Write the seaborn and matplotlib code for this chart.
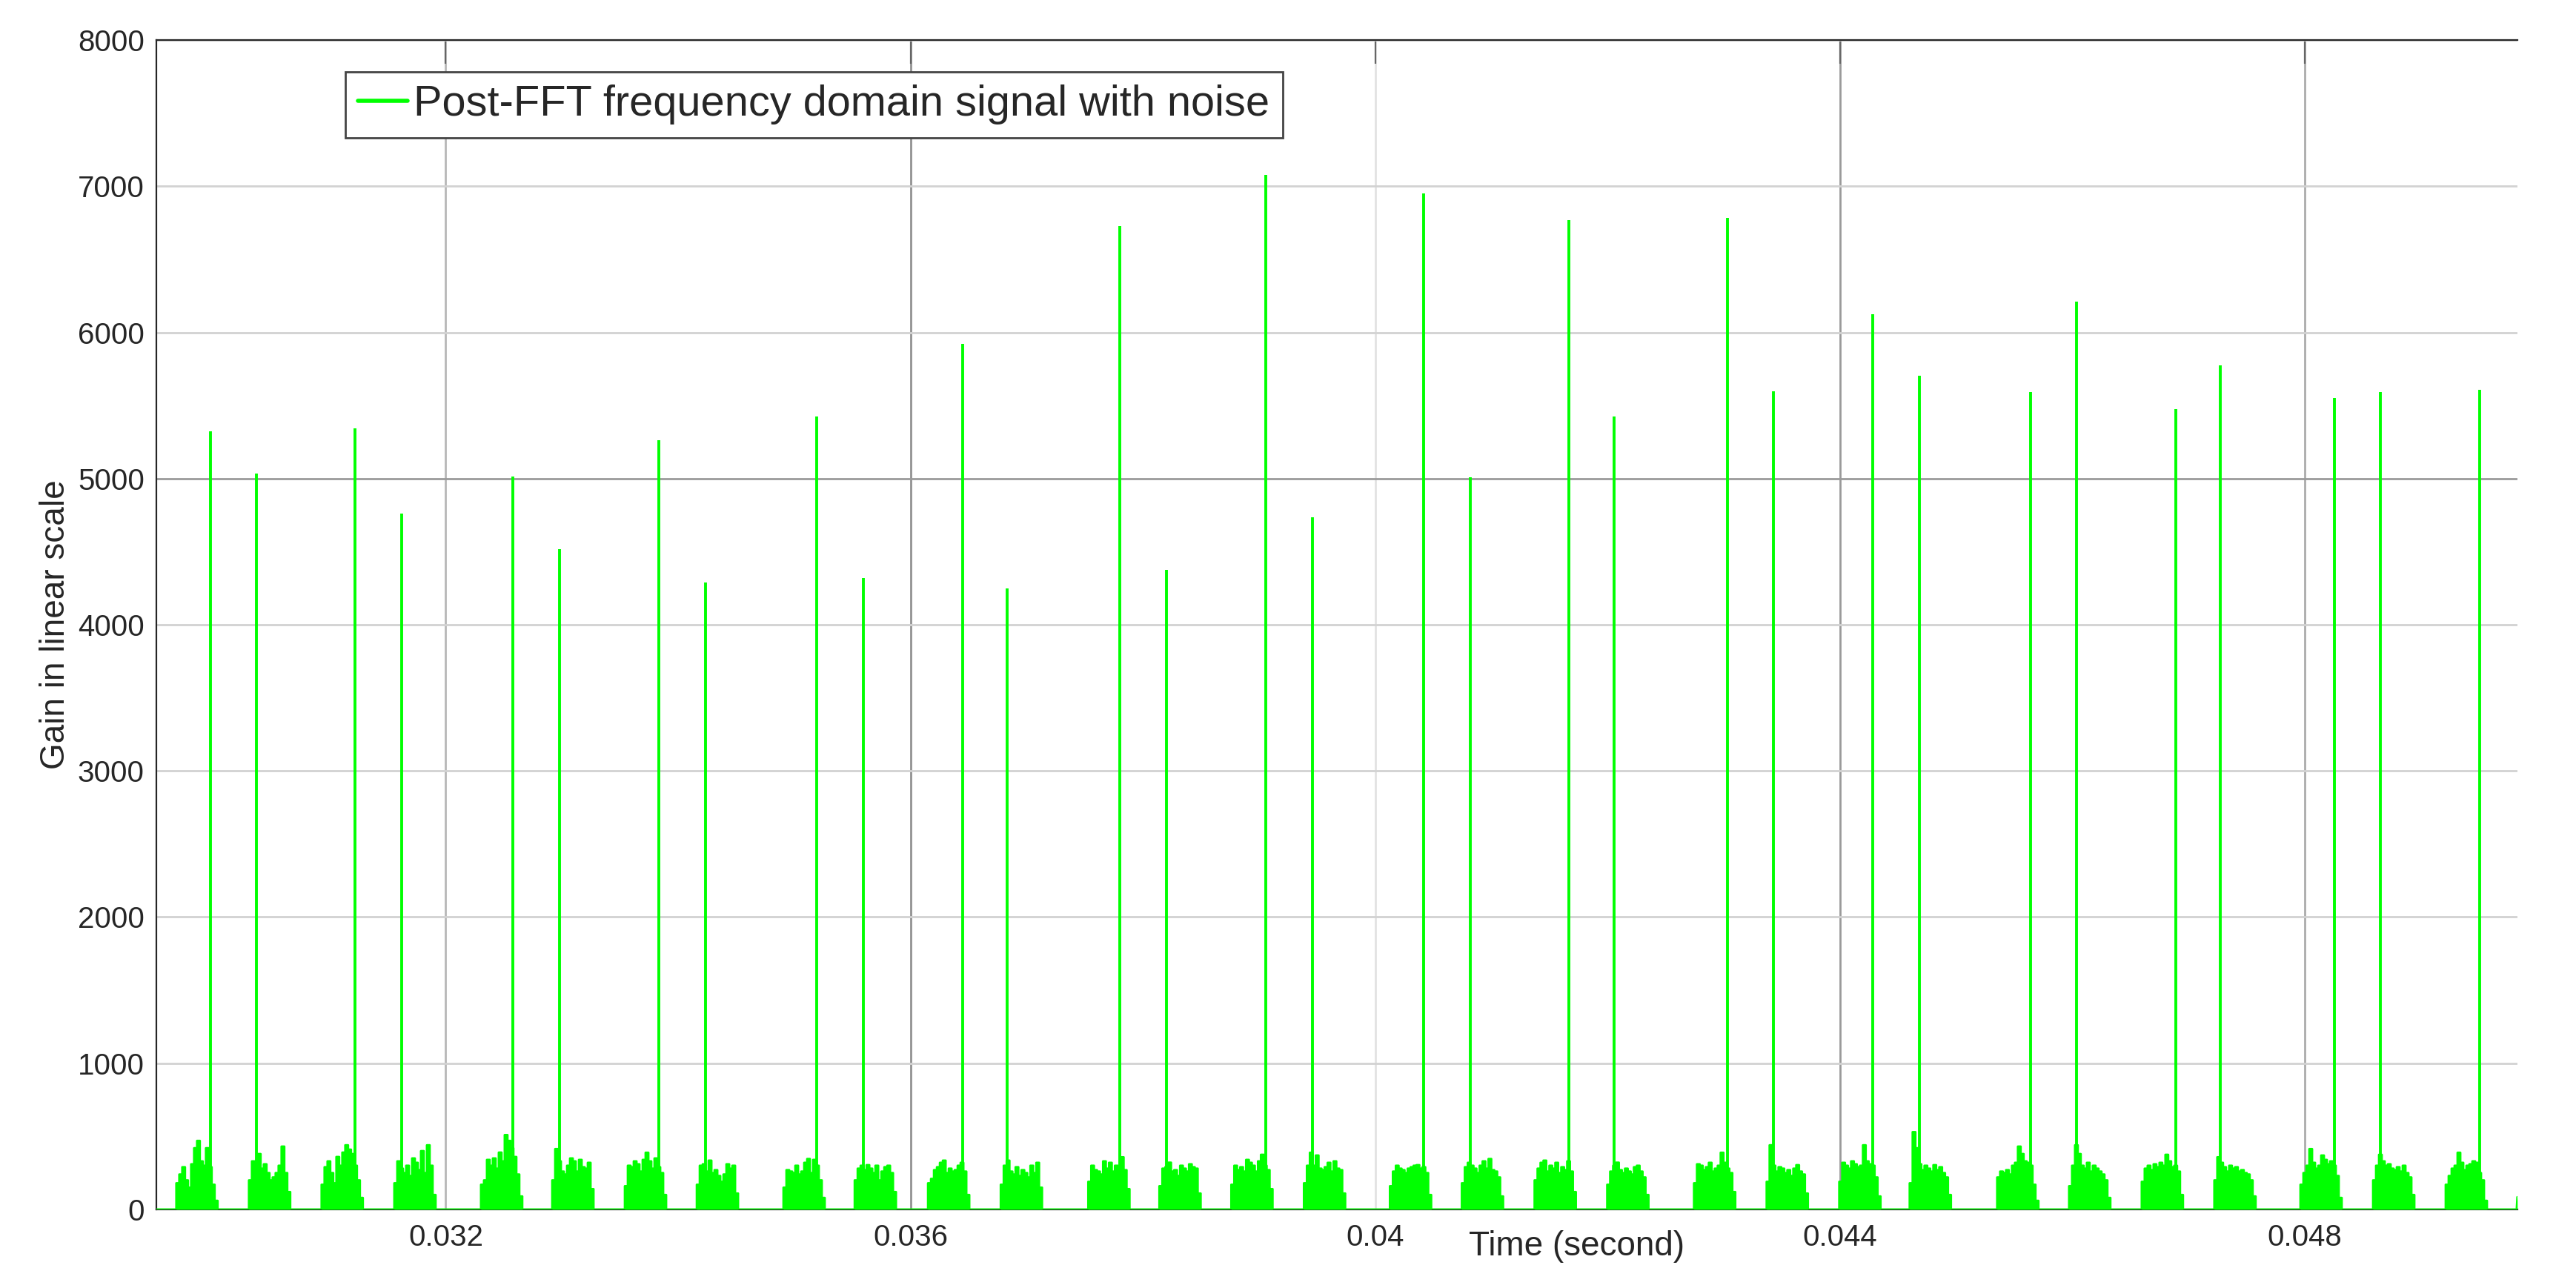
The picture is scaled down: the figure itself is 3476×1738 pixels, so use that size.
import matplotlib
matplotlib.use("Agg")
import matplotlib.pyplot as plt
import numpy as np
import pandas as pd
import seaborn as sns

# tall spikes: time (s) and gain
spike_times = [0.029974, 0.030372, 0.031222, 0.031619, 0.032579, 0.032979,
               0.033833, 0.034233, 0.035193, 0.035594, 0.036447, 0.036831,
               0.037804, 0.038205, 0.039058, 0.039458, 0.040418, 0.040819,
               0.041668, 0.042056, 0.043029, 0.043426, 0.044279, 0.044680,
               0.045640, 0.046037, 0.046890, 0.047274, 0.048251, 0.048651,
               0.049501]
spike_gains = [5325, 5034, 5345, 4763, 5014, 4519, 5262, 4290, 5424, 4319,
               5920, 4248, 6728, 4374, 7075, 4735, 6949, 5009, 6770, 5424,
               6785, 5598, 6122, 5705, 5594, 6212, 5476, 5774, 5550, 5592,
               5607]

# noise bursts around each spike
cluster_starts = [0.029681, 0.030306, 0.030931, 0.031557, 0.032303, 0.032916,
                  0.033541, 0.034160, 0.034906, 0.035519, 0.036150, 0.036776,
                  0.037529, 0.038141, 0.038760, 0.039385, 0.040125, 0.040744,
                  0.041370, 0.041995, 0.042742, 0.043367, 0.043992, 0.044598,
                  0.045351, 0.045970, 0.046595, 0.047220, 0.047961, 0.048586,
                  0.049211]
cluster_ends = [0.030038, 0.030663, 0.031288, 0.031914, 0.032660, 0.033273,
                0.033898, 0.034517, 0.035263, 0.035876, 0.036507, 0.037133,
                0.037886, 0.038498, 0.039117, 0.039742, 0.040482, 0.041101,
                0.041727, 0.042352, 0.043099, 0.043724, 0.044349, 0.044955,
                0.045708, 0.046327, 0.046952, 0.047577, 0.048318, 0.048943,
                0.049568]
noise_envelopes = [
    [180, 240, 290, 200, 150, 310, 420, 470, 330, 300, 420, 290, 170, 60],
    [200, 330, 300, 380, 280, 310, 250, 200, 220, 250, 300, 431, 250, 120],
    [170, 290, 330, 250, 180, 360, 300, 390, 440, 410, 380, 300, 200, 80],
    [180, 330, 280, 250, 300, 230, 350, 320, 270, 400, 250, 440, 300, 100],
    [170, 200, 340, 300, 350, 280, 390, 330, 510, 470, 420, 360, 240, 90],
    [200, 414, 330, 260, 240, 300, 350, 330, 260, 340, 290, 280, 320, 140],
    [160, 300, 290, 330, 310, 260, 340, 389, 330, 280, 350, 290, 250, 100],
    [170, 300, 310, 260, 335, 250, 270, 230, 190, 240, 310, 280, 300, 110],
    [150, 270, 260, 250, 300, 240, 260, 320, 346, 250, 340, 300, 200, 80],
    [200, 280, 300, 270, 304, 280, 250, 300, 200, 260, 290, 300, 250, 120],
    [180, 210, 270, 290, 320, 335, 250, 280, 260, 270, 300, 320, 260, 100],
    [170, 300, 335, 260, 240, 290, 230, 270, 250, 220, 300, 250, 320, 150],
    [190, 300, 270, 260, 240, 330, 280, 320, 260, 300, 280, 358, 270, 140],
    [160, 280, 290, 321, 260, 270, 230, 300, 280, 260, 310, 290, 280, 110],
    [170, 300, 270, 290, 260, 340, 320, 300, 260, 330, 375, 300, 270, 140],
    [180, 300, 389, 300, 370, 280, 270, 290, 320, 260, 330, 280, 270, 110],
    [160, 260, 300, 280, 270, 250, 280, 290, 300, 304, 280, 290, 250, 100],
    [180, 290, 320, 300, 280, 250, 300, 330, 280, 346, 270, 260, 220, 90],
    [200, 280, 320, 335, 260, 300, 280, 320, 250, 290, 270, 330, 260, 120],
    [170, 260, 300, 321, 270, 250, 280, 260, 240, 290, 300, 260, 220, 100],
    [180, 310, 300, 270, 290, 320, 260, 280, 300, 389, 320, 280, 250, 120],
    [190, 440, 300, 260, 290, 280, 250, 270, 230, 280, 304, 260, 240, 110],
    [190, 320, 300, 280, 330, 310, 290, 300, 440, 330, 310, 300, 220, 90],
    [180, 530, 420, 310, 270, 300, 280, 260, 304, 270, 290, 250, 220, 100],
    [220, 260, 250, 270, 240, 300, 320, 431, 380, 330, 320, 300, 170, 60],
    [160, 300, 440, 380, 300, 280, 320, 260, 300, 280, 260, 240, 200, 80],
    [190, 280, 300, 270, 310, 290, 320, 300, 375, 330, 290, 300, 260, 100],
    [200, 358, 320, 290, 260, 300, 280, 290, 260, 270, 250, 240, 200, 90],
    [170, 250, 300, 414, 320, 280, 300, 370, 340, 310, 330, 300, 230, 80],
    [200, 300, 375, 330, 300, 310, 280, 270, 290, 260, 300, 250, 220, 100],
    [170, 230, 280, 300, 389, 320, 270, 300, 310, 330, 320, 250, 200, 60],
]
tail_times = [0.049822, 0.049828]
tail_gains = [0, 85]

x_ticks = [0.032, 0.036, 0.04, 0.044, 0.048]
x_tick_labels = ["0.032", "0.036", "0.04", "0.044", "0.048"]
y_ticks = [0, 1000, 2000, 3000, 4000, 5000, 6000, 7000, 8000]

GREEN = "#00ff00"
X_MIN, X_MAX = 0.02951, 0.04983


def build_signal():
    times, gains = [X_MIN], [0]
    for start, end, env in zip(cluster_starts, cluster_ends, noise_envelopes):
        edges = np.linspace(start, end, len(env) + 1)
        times.append(start)
        gains.append(0)
        for k, v in enumerate(env):
            times += [edges[k], edges[k + 1]]
            gains += [v, v]
        times.append(end)
        gains.append(0)
    times += tail_times
    gains += tail_gains
    return pd.DataFrame({"time": times, "gain": gains})


def main():
    sns.set_style("white")
    plt.rcParams["font.family"] = ["Liberation Sans", "DejaVu Sans"]

    df = build_signal()

    fig = plt.figure(figsize=(17.38, 8.69), dpi=200)
    ax = fig.add_axes([0.0607, 0.0610, 0.9166, 0.9079])

    ax.fill_between(df["time"], df["gain"], color=GREEN, lw=0, zorder=3)
    sns.lineplot(data=df, x="time", y="gain", sort=False, estimator=None,
                 color=GREEN, lw=1.0, ax=ax, zorder=3,
                 label="Post-FFT frequency domain signal with noise")
    ax.vlines(spike_times, 0, spike_gains, color=GREEN, lw=1.4, zorder=3)

    ax.set_xlim(X_MIN, X_MAX)
    ax.set_ylim(0, 8000)
    ax.set_xticks(x_ticks)
    ax.set_xticklabels(x_tick_labels)
    ax.set_yticks(y_ticks)

    ax.grid(True, lw=1.0)
    ax.set_axisbelow(True)
    for line, c in zip(ax.get_xgridlines(),
                       ["#b8b8b8", "#929292", "#e2e2e2", "#9a9a9a", "#ababab"]):
        line.set_color(c)
    for line, val in zip(ax.get_ygridlines(), y_ticks):
        line.set_color("#9a9a9a" if val == 5000 else "#d2d2d2")

    ax.tick_params(direction="in", length=11.5, width=0.8, top=True, right=False,
                   color="#666666", labelcolor="#262626", labelsize=14.5)
    ax.tick_params(axis="x", pad=6.8)
    ax.tick_params(axis="y", pad=5.8)

    ax.spines["right"].set_visible(False)
    for side in ["left", "top", "bottom"]:
        ax.spines[side].set_color("#262626")
        ax.spines[side].set_linewidth(0.8)

    ax.set_xlabel("Time (second)", fontsize=16.5, color="#262626")
    ax.xaxis.set_label_coords(0.6014, -0.0177)
    ax.set_ylabel("Gain in linear scale", fontsize=16.5, color="#262626")
    ax.yaxis.set_label_coords(-0.0358, 0.5)

    leg = ax.legend(loc="upper left", bbox_to_anchor=(0.080, 0.9727),
                    fontsize=20.8, frameon=True, fancybox=False,
                    edgecolor="#444444", framealpha=1, handlelength=1.15,
                    handletextpad=0.15, borderpad=0.3, borderaxespad=0)
    leg.get_frame().set_linewidth(1.0)
    leg.get_lines()[0].set_linewidth(2.0)

    fig.savefig("out.png", dpi=200)


if __name__ == "__main__":
    main()
